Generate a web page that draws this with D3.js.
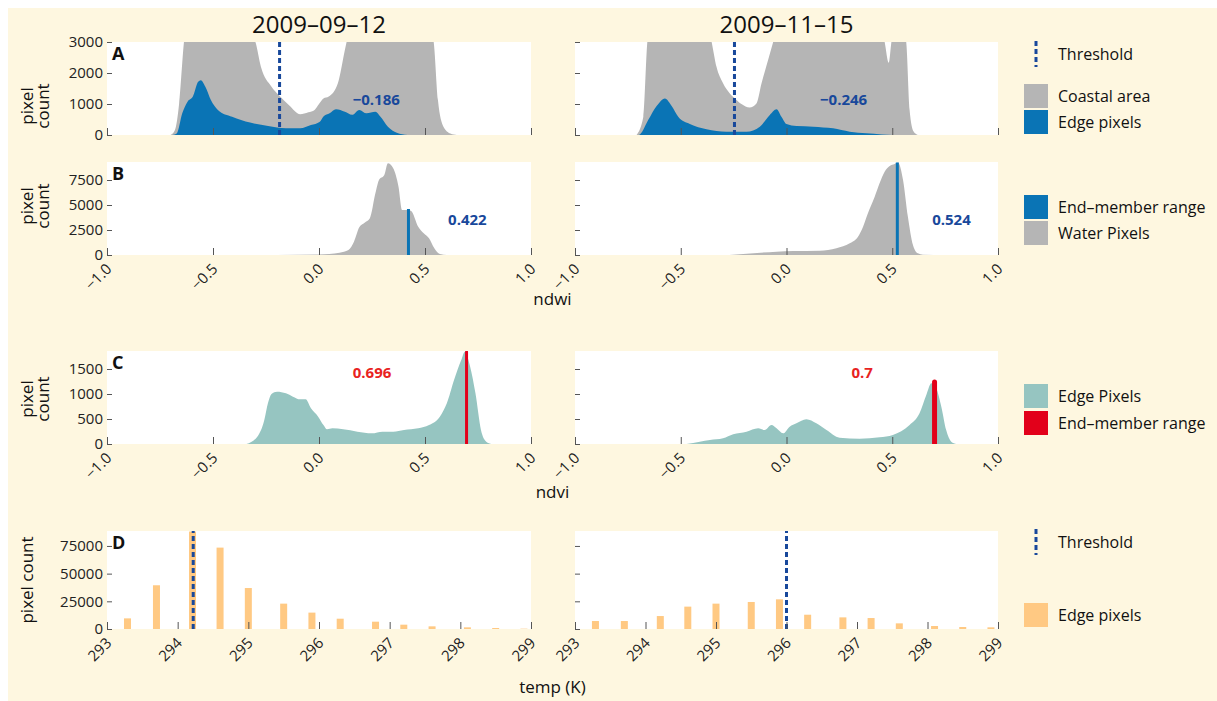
<!DOCTYPE html>
<html>
<head>
<meta charset="utf-8">
<script src="https://d3js.org/d3.v7.min.js"></script>
<style>
body { margin: 0; background: #fff; }
svg text { font-family: "Open Sans", sans-serif; }
.tick line { stroke: #555; }
.tick text { font-size: 15px; fill: #222; }
</style>
</head>
<body>
<svg id="chart" width="1217" height="701"></svg>
<script>
// ---- data ----
var dates = ["2009\u201309\u201312", "2009\u201311\u201315"];

// A: ndwi histograms, coastal area (grey) and edge pixels (blue)
var coastalSep = [[-0.70,0],[-0.68,150],[-0.66,1000],[-0.637,3000],[-0.60,4500],[-0.50,5000],[-0.40,4500],[-0.33,3300],[-0.30,3000],
  [-0.274,2200],[-0.224,1560],[-0.19,1290],[-0.14,950],[-0.089,670],[-0.05,730],[-0.021,810],[0.0,1000],[0.021,1180],[0.046,1240],
  [0.089,1670],[0.122,2740],[0.14,3300],[0.20,4500],[0.35,5000],[0.50,4500],[0.53,3300],[0.541,3000],[0.561,1130],[0.587,270],[0.62,50],[0.65,0]];
var edgeSep = [[-0.69,0],[-0.67,60],[-0.645,700],[-0.62,1075],[-0.595,1240],[-0.57,1720],[-0.558,1770],[-0.536,1560],[-0.51,1130],
  [-0.477,810],[-0.41,590],[-0.325,400],[-0.24,290],[-0.156,215],[-0.089,215],[-0.038,320],[0.004,430],[0.021,600],[0.05,700],
  [0.08,830],[0.122,750],[0.156,650],[0.19,810],[0.224,700],[0.266,750],[0.29,590],[0.325,270],[0.367,75],[0.418,0]];
var coastalNov = [[-0.709,0],[-0.677,590],[-0.658,3000],[-0.62,4500],[-0.50,5000],[-0.40,4200],[-0.354,3000],[-0.331,2200],[-0.30,1670],
  [-0.268,1340],[-0.244,1180],[-0.213,1000],[-0.174,890],[-0.142,1020],[-0.118,1670],[-0.087,2420],[-0.063,3000],[0.0,4500],[0.20,5000],
  [0.40,4000],[0.464,3000],[0.484,2330],[0.496,3000],[0.53,4000],[0.566,3000],[0.582,810],[0.601,110],[0.621,0]];
var edgeNov = [[-0.70,0],[-0.693,20],[-0.654,480],[-0.614,935],[-0.575,1180],[-0.543,935],[-0.512,590],[-0.457,355],[-0.378,185],
  [-0.284,107],[-0.189,107],[-0.126,270],[-0.079,645],[-0.047,830],[-0.024,590],[0.0,355],[0.047,290],[0.126,270],[0.22,215],
  [0.299,107],[0.378,54],[0.45,20],[0.50,0]];
var ndwiThreshold = [-0.186, -0.246];

// B: ndwi of water pixels
var waterSep = [[-0.25,0],[-0.20,10],[0.0,60],[0.097,230],[0.139,500],[0.165,1330],[0.19,2770],[0.215,3230],[0.24,3670],[0.266,6170],
  [0.283,7500],[0.308,8000],[0.325,9170],[0.35,8670],[0.375,6830],[0.392,4500],[0.418,4500],[0.435,4400],[0.468,2830],[0.494,2170],
  [0.519,1670],[0.544,670],[0.57,100],[0.603,0]];
var waterNov = [[-0.27,0],[-0.047,330],[0.031,400],[0.157,430],[0.236,670],[0.299,1170],[0.338,1830],[0.362,2830],[0.385,4170],
  [0.417,5830],[0.44,7170],[0.464,8330],[0.488,8900],[0.511,9100],[0.527,9250],[0.551,7500],[0.574,3830],[0.598,1000],[0.621,170],
  [0.645,30],[0.75,0]];
var waterEnd = [0.422, 0.524];
var waterEndTop = [4600, 9250];

// C: ndvi of edge pixels
var ndviSep = [[-0.342,0],[-0.291,147],[-0.258,480],[-0.241,813],[-0.224,1000],[-0.198,1047],[-0.156,1013],[-0.123,947],[-0.089,893],
  [-0.063,893],[-0.038,713],[-0.004,547],[0.021,380],[0.038,293],[0.063,313],[0.114,293],[0.181,247],[0.249,213],[0.30,247],[0.35,247],
  [0.401,280],[0.468,313],[0.519,380],[0.57,547],[0.603,813],[0.637,1280],[0.671,1680],[0.688,1847],[0.713,1547],[0.738,1013],
  [0.764,280],[0.789,47],[0.814,0]];
var ndviNov = [[-0.473,0],[-0.41,47],[-0.362,80],[-0.30,113],[-0.252,193],[-0.189,247],[-0.134,313],[-0.103,280],[-0.071,380],
  [-0.047,313],[-0.016,213],[0.015,347],[0.047,413],[0.094,493],[0.141,413],[0.189,280],[0.251,127],[0.346,107],[0.44,133],
  [0.503,180],[0.582,380],[0.629,613],[0.661,980],[0.685,1213],[0.708,1113],[0.732,747],[0.755,280],[0.779,47],[0.803,0]];
var ndviEnd = [0.696, 0.7];
var ndviEndTop = [1840, 1240];

// D: temperature of edge pixels
var tempBins = [293.29,293.70,294.21,294.60,295.00,295.50,295.90,296.30,296.80,297.20,297.60,298.10,298.50,298.90];
var tempCountSep = [9600,39500,88000,73500,37000,22900,14800,9300,6600,3900,2400,1500,900,300];
var tempCountNov = [7200,7200,11700,20200,22900,24400,26800,12900,10500,9900,5100,2700,1800,1500];
var tempThreshold = [294.22, 296.0];

var ndTicks = [-1, -0.5, 0, 0.5, 1];
var tempTicks = [293, 294, 295, 296, 297, 298, 299];
var yTicksA = [0, 1000, 2000, 3000];
var yTicksB = [0, 2500, 5000, 7500];
var yTicksC = [0, 500, 1000, 1500];
var yTicksD = [0, 25000, 50000, 75000];

// ---- colours ----
var cream = "#fef7e0", grey = "#b5b5b5", blue = "#0a74b5", teal = "#96c5c1",
    red = "#e2001a", orange = "#ffc983", navy = "#18489b";

var svg = d3.select("#chart");
svg.append("rect").attr("x", 8).attr("y", 8).attr("width", 1209).attr("height", 693).attr("fill", cream);

var cols = [{x0: 107, x1: 531}, {x0: 575, x1: 998}];
var rows = {A: [42, 135], B: [162, 255], C: [351, 444], D: [531, 629]};
var fmtNd = d3.format(".1f"), fmtVal = d3.format(".3~f"), fmtInt = d3.format("d");

function makePanel(c, r, xd, yd) {
  var x = d3.scaleLinear().domain(xd).range([cols[c].x0, cols[c].x1]);
  var y = d3.scaleLinear().domain(yd).range([rows[r][1], rows[r][0]]);
  var id = "clip" + r + c;
  var g = svg.append("g");
  g.append("clipPath").attr("id", id).append("rect")
    .attr("x", cols[c].x0).attr("y", rows[r][0])
    .attr("width", cols[c].x1 - cols[c].x0).attr("height", rows[r][1] - rows[r][0]);
  g.append("rect").attr("x", cols[c].x0).attr("y", rows[r][0])
    .attr("width", cols[c].x1 - cols[c].x0).attr("height", rows[r][1] - rows[r][0]).attr("fill", "#fff");
  var plot = g.append("g").attr("clip-path", "url(#" + id + ")");
  return {g: g, plot: plot, x: x, y: y, c: c, r: r};
}

function area(p, data, fill) {
  var gen = d3.area().x(function(d){ return p.x(d[0]); })
    .y0(p.y(0)).y1(function(d){ return p.y(d[1]); }).curve(d3.curveMonotoneX);
  p.plot.append("path").datum(data).attr("d", gen).attr("fill", fill);
}

function dashed(p, v) {
  p.plot.append("line").attr("x1", p.x(v)).attr("x2", p.x(v))
    .attr("y1", p.y.range()[0]).attr("y2", p.y.range()[1])
    .attr("stroke", navy).attr("stroke-width", 3).attr("stroke-dasharray", "5,3");
}

function axes(p, xTicks, yTicks, xLabels, xfmt) {
  var ya = d3.axisLeft(p.y).tickValues(yTicks).tickSizeInner(-5).tickSizeOuter(0).tickPadding(4)
    .tickFormat(p.c === 1 ? "" : fmtInt);
  var gy = p.g.append("g").attr("transform", "translate(" + p.x.range()[0] + ",0)").call(ya);
  gy.select(".domain").remove();
  var xa = d3.axisBottom(p.x).tickValues(xTicks).tickSizeInner(-7).tickSizeOuter(0);
  xa.tickFormat(xLabels ? xfmt : "");
  var gx = p.g.append("g").attr("transform", "translate(0," + p.y.range()[0] + ")").call(xa);
  gx.select(".domain").remove();
  gx.selectAll("text").attr("y", 0).attr("dy", 0).attr("text-anchor", "end")
    .attr("transform", "translate(5,15) rotate(-45)");
}

function label(p, txt, x, y, col) {
  p.g.append("text").attr("x", p.x(x)).attr("y", p.y(y)).attr("dy", "0.35em")
    .attr("text-anchor", "middle").attr("font-size", 15).attr("font-weight", "bold")
    .attr("fill", col).text(txt);
}

function letter(p, t) {
  p.g.append("text").attr("x", p.x.range()[0] + 5).attr("y", p.y.range()[1] + 18)
    .attr("font-size", 18).attr("font-weight", "bold").attr("fill", "#111").text(t);
}

// ---- A ----
[[coastalSep, edgeSep], [coastalNov, edgeNov]].forEach(function(d, i) {
  var p = makePanel(i, "A", [-1, 1], [0, 3000]);
  area(p, d[0], grey);
  area(p, d[1], blue);
  dashed(p, ndwiThreshold[i]);
  label(p, fmtVal(ndwiThreshold[i]), 0.27, 1130, navy);
  axes(p, ndTicks, yTicksA, false);
  if (i === 0) letter(p, "A");
});

// ---- B ----
[waterSep, waterNov].forEach(function(d, i) {
  var p = makePanel(i, "B", [-1, 1], [0, 9300]);
  area(p, d, grey);
  p.plot.append("line").attr("x1", p.x(waterEnd[i])).attr("x2", p.x(waterEnd[i]))
    .attr("y1", p.y(0)).attr("y2", p.y(waterEndTop[i]))
    .attr("stroke", blue).attr("stroke-width", 3);
  label(p, fmtVal(waterEnd[i]), i === 0 ? 0.70 : 0.78, 3500, navy);
  axes(p, ndTicks, yTicksB, true, fmtNd);
  if (i === 0) letter(p, "B");
});

// ---- C ----
[ndviSep, ndviNov].forEach(function(d, i) {
  var p = makePanel(i, "C", [-1, 1], [0, 1860]);
  area(p, d, teal);
  p.plot.append("line").attr("x1", p.x(ndviEnd[i])).attr("x2", p.x(ndviEnd[i]))
    .attr("y1", p.y(0)).attr("y2", p.y(ndviEndTop[i]))
    .attr("stroke", red).attr("stroke-width", i === 0 ? 3 : 5).attr("stroke-linecap", "round");
  label(p, fmtVal(ndviEnd[i]), i === 0 ? 0.25 : 0.358, 1426, "#e8231f");
  axes(p, ndTicks, yTicksC, true, fmtNd);
  if (i === 0) letter(p, "C");
});

// ---- D ----
[tempCountSep, tempCountNov].forEach(function(counts, i) {
  var p = makePanel(i, "D", [293, 299], [0, 88500]);
  p.plot.selectAll("rect.bar").data(tempBins).enter().append("rect").attr("class", "bar")
    .attr("x", function(t){ return p.x(t) - 3.5; }).attr("width", 7)
    .attr("y", function(t, j){ return p.y(counts[j]); })
    .attr("height", function(t, j){ return p.y(0) - p.y(counts[j]); })
    .attr("fill", orange);
  dashed(p, tempThreshold[i]);
  axes(p, tempTicks, yTicksD, true, fmtInt);
  if (i === 0) letter(p, "D");
});

// ---- titles and axis labels ----
dates.forEach(function(t, i) {
  svg.append("text").attr("x", (cols[i].x0 + cols[i].x1) / 2).attr("y", 33)
    .attr("text-anchor", "middle").attr("font-size", 24).attr("fill", "#111").text(t);
});
var mid = (cols[0].x0 + cols[1].x1) / 2;
[["ndwi", 305], ["ndvi", 498], ["temp (K)", 693]].forEach(function(d) {
  svg.append("text").attr("x", mid).attr("y", d[1]).attr("text-anchor", "middle")
    .attr("font-size", 17).attr("fill", "#111").text(d[0]);
});
[[106, true], [206, true], [399, true], [580, false]].forEach(function(d) {
  var t = svg.append("text").attr("transform", "translate(0," + d[0] + ") rotate(-90)")
    .attr("text-anchor", "middle").attr("font-size", 17).attr("fill", "#111");
  if (d[1]) {
    t.append("tspan").attr("x", 0).attr("y", 33).text("pixel");
    t.append("tspan").attr("x", 0).attr("y", 49).text("count");
  } else {
    t.append("tspan").attr("x", 0).attr("y", 33).text("pixel count");
  }
});

// ---- legends ----
var legendBoxes = [
  ["Coastal area", grey, 96], ["Edge pixels", blue, 122],
  ["End\u2013member range", blue, 207], ["Water Pixels", grey, 233],
  ["Edge Pixels", teal, 396], ["End\u2013member range", red, 423],
  ["Edge pixels", orange, 615]
];
var leg = svg.append("g");
legendBoxes.forEach(function(d) {
  leg.append("rect").attr("x", 1024).attr("y", d[2] - 12).attr("width", 24).attr("height", 24).attr("fill", d[1]);
  leg.append("text").attr("x", 1058).attr("y", d[2]).attr("dy", "0.35em")
    .attr("font-size", 16).attr("fill", "#111").text(d[0]);
});
[54, 542].forEach(function(cy) {
  leg.append("line").attr("x1", 1036).attr("x2", 1036).attr("y1", cy - 13).attr("y2", cy + 13)
    .attr("stroke", navy).attr("stroke-width", 3).attr("stroke-dasharray", "5,3");
  leg.append("text").attr("x", 1058).attr("y", cy).attr("dy", "0.35em")
    .attr("font-size", 16).attr("fill", "#111").text("Threshold");
});
</script>
</body>
</html>
